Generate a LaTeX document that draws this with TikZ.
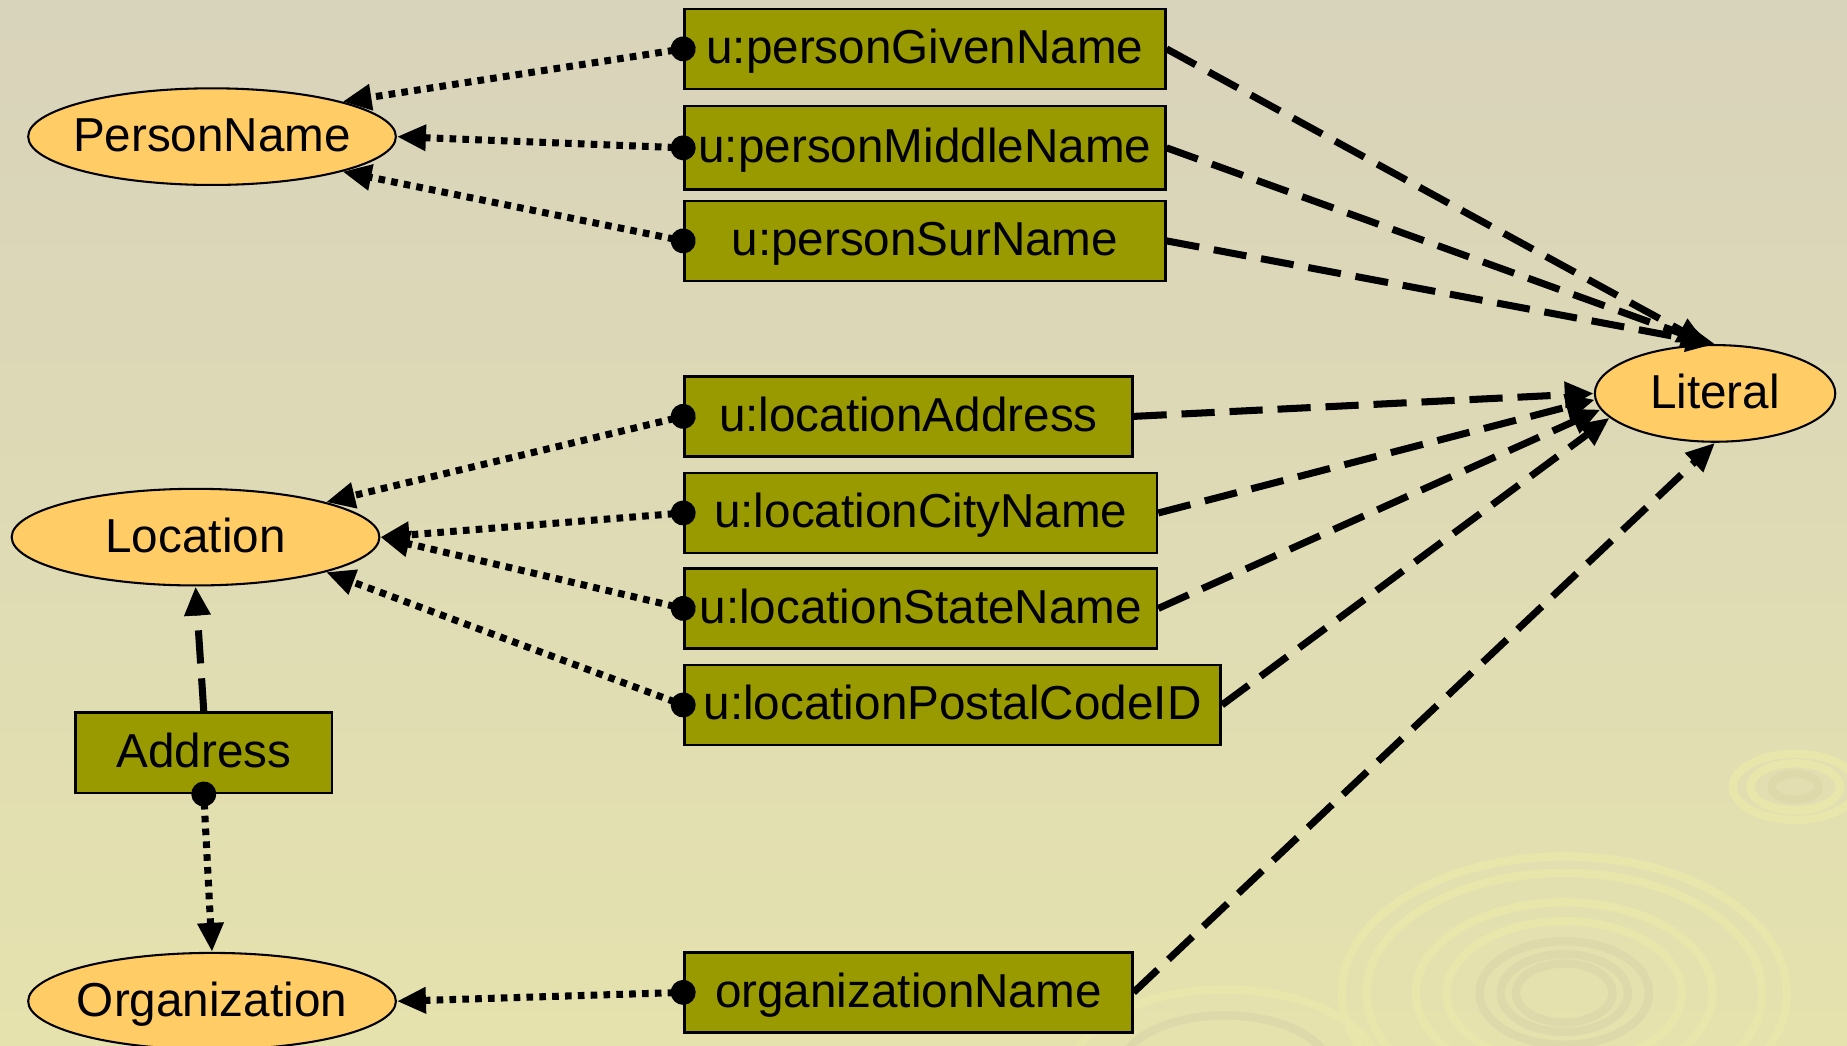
\documentclass[tikz,border=0pt]{standalone}
\usepackage{fontspec}
\setsansfont{Liberation Sans}
\usepackage{tikz}
\usetikzlibrary{arrows.meta,shapes.geometric}
\definecolor{bgtop}{RGB}{216,211,187}
\definecolor{bgbot}{RGB}{229,226,174}
\definecolor{clsfill}{RGB}{255,204,102}
\definecolor{propfill}{RGB}{153,153,0}
\definecolor{riplight}{RGB}{233,230,172}
\definecolor{ripdark}{RGB}{221,217,170}
\tikzset{
  umlnode/.style = {align=center, text centered, black,
    font=\sffamily\fontsize{11.5}{13}\selectfont,
    text height=0.93em, text depth=0.21em},
  cls_e/.style = {umlnode, ellipse, draw=black, line width=0.5pt,
    fill=clsfill, inner xsep=-0.1cm, inner ysep=0pt, minimum height=0.82cm},% classe, ellipse
  prop_b/.style = {umlnode, rectangle, draw=black, line width=0.6pt,
    fill=propfill, inner sep=0pt, minimum height=0.68cm, anchor=west},% propriete, boite
  lnk_dom/.style = {line width=1.7pt, dash pattern=on 1.6pt off 1.5pt,
    {Circle[length=6pt]}-{Triangle[length=7pt,width=6pt]}, shorten <=-3pt},% domaine
  lnk_rng/.style = {line width=1.7pt, dash pattern=on 8pt off 3.6pt,
    -{Triangle[length=7pt,width=6pt]}},% co-domaine
  rip_l/.style = {draw=riplight, line width=2pt},
  rip_d/.style = {draw=ripdark, line width=2pt}
}

\begin{document}
\begin{tikzpicture}[x=0.01cm, y=-0.01cm]
  \useasboundingbox (0,0) rectangle (1568,888);
  \shade[top color=bgtop, bottom color=bgbot] (0,0) rectangle (1568,888);
  \begin{scope}
    \clip (0,0) rectangle (1568,888);
    \draw[rip_l] (1328,843) ellipse (189 and 116);
    \draw[rip_l] (1328,843) ellipse (168 and 102);
    \draw[rip_l] (1328,843) ellipse (126 and 77);
    \draw[rip_l] (1328,843) ellipse (100 and 61);
    \draw[rip_d] (1328,843) ellipse (72 and 44);
    \draw[rip_d] (1328,843) ellipse (54 and 33);
    \draw[rip_d] (1328,843) ellipse (41 and 25);
    \draw[rip_l] (1524,668) ellipse (53 and 28);
    \draw[rip_l] (1524,668) ellipse (38 and 20);
    \draw[rip_d] (1524,668) ellipse (20 and 11);
    \draw[rip_l] (1040,910) ellipse (130 and 70);
    \draw[rip_d] (1040,910) ellipse (90 and 48);
  \end{scope}

  % classes
  \node[cls_e, minimum width=3.12cm] (pname) at (180,116) {PersonName};
  \node[cls_e, minimum width=3.12cm] (loc) at (166,456) {Location};
  \node[cls_e, minimum width=3.12cm] (org) at (180,850) {Organization};
  \node[cls_e, minimum width=2.04cm] (lit) at (1456,334) {Literal};
  \node[prop_b, anchor=center, minimum width=2.18cm] (addr) at (173,639) {Address};

  % proprietes
  \node[prop_b, minimum width=4.08cm] (pgiven) at (580,41.5) {u:personGivenName};
  \node[prop_b, minimum width=4.08cm, minimum height=0.71cm] (pmiddle) at (580,125.5) {u:personMiddleName};
  \node[prop_b, minimum width=4.08cm] (psur) at (580,204.5) {u:personSurName};
  \node[prop_b, minimum width=3.80cm] (laddr) at (580,353.5) {u:locationAddress};
  \node[prop_b, minimum width=4.01cm] (lcity) at (580,435.5) {u:locationCityName};
  \node[prop_b, minimum width=4.01cm] (lstate) at (580,516.5) {u:locationStateName};
  \node[prop_b, minimum width=4.55cm] (lpostal) at (580,598.5) {u:locationPostalCodeID};
  \node[prop_b, minimum width=3.80cm] (oname) at (580,842.5) {organizationName};

  % domaines
  \draw[lnk_dom] (pgiven.west) -- (pname.15);
  \draw[lnk_dom] (pmiddle.west) -- (pname.east);
  \draw[lnk_dom] (psur.west) -- (pname.-15);
  \draw[lnk_dom] (laddr.west) -- (loc.15);
  \draw[lnk_dom] (lcity.west) -- (loc.east);
  \draw[lnk_dom] (lstate.west) -- (loc.east);
  \draw[lnk_dom] (lpostal.west) -- (loc.-15);
  \draw[lnk_dom] (oname.west) -- (org.east);
  \draw[lnk_dom] (addr.south) -- (org.north);

  % co-domaines
  \draw[lnk_rng] (pgiven.east) -- (lit.100);
  \draw[lnk_rng] (pmiddle.east) -- (lit.95);
  \draw[lnk_rng] (psur.east) -- (lit.north);
  \draw[lnk_rng] (laddr.east) -- (lit.west);
  \draw[lnk_rng] (lcity.east) -- (lit.183);
  \draw[lnk_rng] (lstate.east) -- (lit.188);
  \draw[lnk_rng] (lpostal.east) -- (lit.193);
  \draw[lnk_rng] (oname.east) -- (lit.south);
  \draw[lnk_rng] (addr.north) -- (loc.south);
\end{tikzpicture}
\end{document}
